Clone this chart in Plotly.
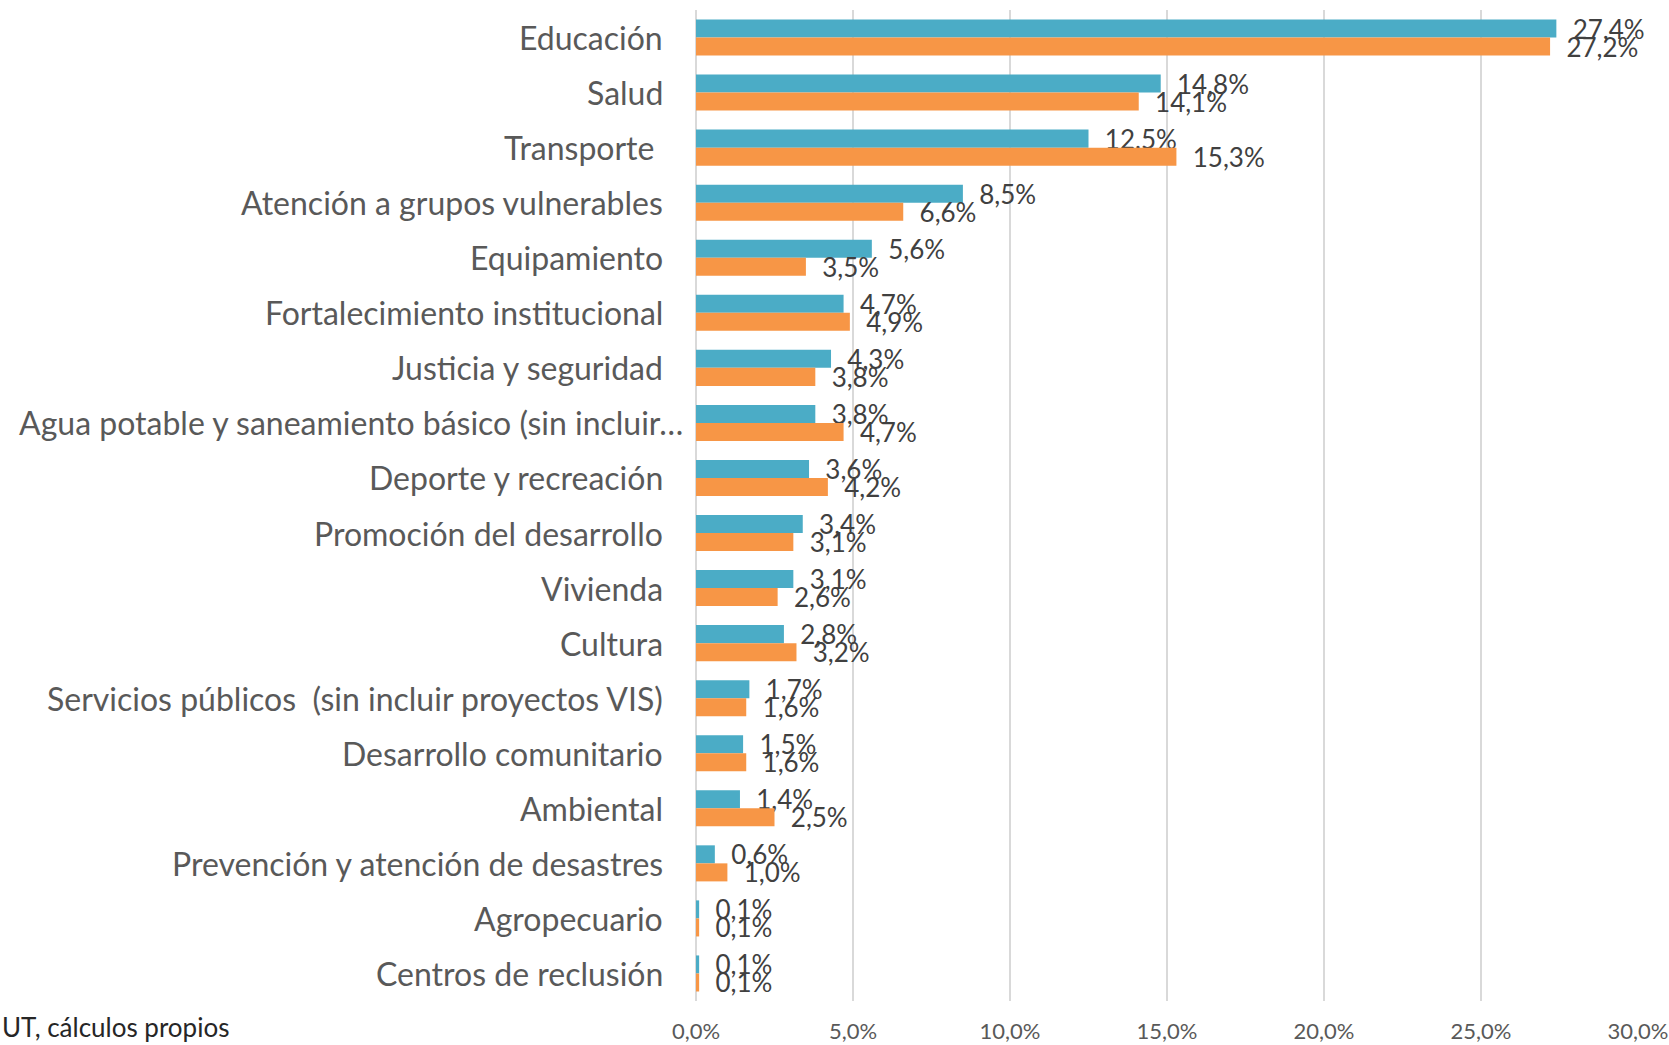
import plotly.graph_objects as go

categories = [
    "Educación",
    "Salud",
    "Transporte\u00a0",
    "Atención a grupos vulnerables",
    "Equipamiento",
    "Fortalecimiento institucional",
    "Justicia y seguridad",
    "Agua potable y saneamiento básico (sin incluir…",
    "Deporte y recreación",
    "Promoción del desarrollo",
    "Vivienda",
    "Cultura",
    "Servicios públicos\u00a0\u00a0(sin incluir proyectos VIS)",
    "Desarrollo comunitario",
    "Ambiental",
    "Prevención y atención de desastres",
    "Agropecuario",
    "Centros de reclusión",
]
serie_azul = [27.4, 14.8, 12.5, 8.5, 5.6, 4.7, 4.3, 3.8, 3.6, 3.4, 3.1, 2.8, 1.7, 1.5, 1.4, 0.6, 0.1, 0.1]
serie_naranja = [27.2, 14.1, 15.3, 6.6, 3.5, 4.9, 3.8, 4.7, 4.2, 3.1, 2.6, 3.2, 1.6, 1.6, 2.5, 1.0, 0.1, 0.1]
tick_vals = [0, 5, 10, 15, 20, 25, 30]
tick_text = [f"{v:.1f}%".replace(".", ",") for v in tick_vals]
source_text = "UT, cálculos propios"

FONT = "Lato"
BLUE = "#4BACC6"
ORANGE = "#F79646"
pad = "\u00a0\u00a0"

fig = go.Figure()
for vals, color, name in [(serie_azul, BLUE, "Serie 1"), (serie_naranja, ORANGE, "Serie 2")]:
    fig.add_trace(go.Bar(
        y=categories, x=vals, orientation="h", name=name,
        marker=dict(color=color, line=dict(width=0)),
        texttemplate=pad + "%{x:.1f}%", textposition="outside",
        constraintext="none", cliponaxis=False,
        textfont=dict(family=FONT, size=26, color="#404040"),
        hoverinfo="x+y",
    ))

annotations = []
for c in categories:
    shift = -11 if c.endswith("…") else -31
    annotations.append(dict(
        x=0, y=c, xref="x", yref="y", text=c, showarrow=False,
        xanchor="right", yanchor="middle", xshift=shift,
        font=dict(family=FONT, size=32, color="#595959"),
    ))
annotations.append(dict(
    x=-696 / 942, y=-26 / 991, xref="paper", yref="paper", text=source_text,
    showarrow=False, xanchor="left", yanchor="middle",
    font=dict(family=FONT, size=26, color="#262626"),
))

fig.update_layout(
    width=1669, height=1045,
    margin=dict(l=696, r=31, t=10, b=44, autoexpand=False),
    paper_bgcolor="white", plot_bgcolor="white",
    barmode="group", bargap=0.345, bargroupgap=0,
    showlegend=False,
    separators=",.",
    annotations=annotations,
    font=dict(family=FONT, color="#595959"),
)
fig.update_xaxes(
    range=[0, 30], tickmode="array", tickvals=tick_vals, ticktext=tick_text,
    showgrid=True, gridcolor="#D9D9D9", gridwidth=2,
    zeroline=True, zerolinecolor="#D9D9D9", zerolinewidth=2,
    showline=False, ticks="", ticklabelstandoff=15, automargin=False,
    tickfont=dict(family=FONT, size=22, color="#595959"),
)
fig.update_yaxes(
    range=[17.5, -0.5], showticklabels=False, showgrid=False,
    zeroline=False, showline=False, automargin=False,
)

fig.write_html("out.html", config={"displayModeBar": False},
               post_script="document.body.style.margin='0';")
